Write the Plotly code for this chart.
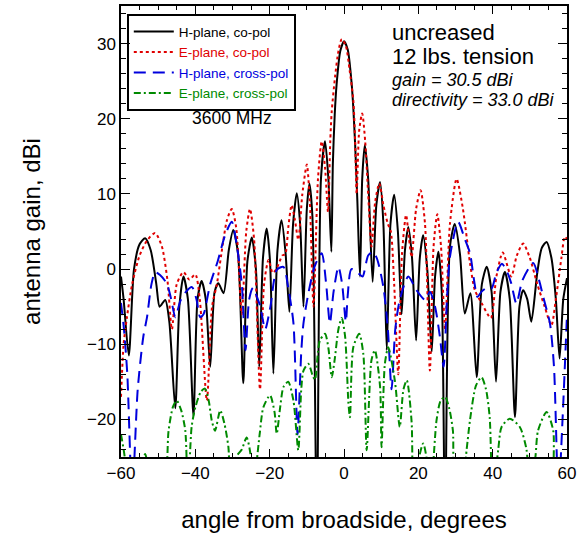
import plotly.graph_objects as go

# ---------------- data ----------------
h_co_ang = [-60, -59.3, -57.9, -56.5, -55, -53.5, -52, -50.5, -49.6, -48.1, -47, -45.4, -44.3, -43.2, -42, -40.5,
            -39.4, -38.3, -37.2, -36.0, -34.8, -33.8, -32.4, -31, -29.8, -28.5, -27.1, -26, -24.8, -23.7, -22.8,
            -21.8, -20.8, -19.9, -19.0, -17.9, -16.8, -15.7, -14.7, -13.7, -12.7, -11.8, -10.9, -10, -9.3, -8.5,
            -7.3, -6.2, -5.1, -4.2, -3.4, -3.0, -2.5, -2.0, -1.0, 0, 1.0, 2.0, 2.5, 3.0, 3.6, 4.3, 4.9, 5.6, 6.5,
            7.7, 8.7, 9.7, 10.6, 11.5, 12.5, 13.5, 14.5, 15.5, 16.4, 17.3, 18.3, 19.4, 20.4, 21.3, 22.4, 23.6,
            24.5, 25.4, 26.3, 27.2, 28.5, 29.8, 31.2, 32.5, 34.0, 35.7, 37.1, 38.4, 39.7, 40.9, 42.1, 43.3, 44.6,
            46.0, 47.2, 48.2, 49.3, 50.4, 52, 53.2, 54.5, 55.8, 57, 58, 59, 60]
h_co_db = [-1.0, -4, -11.5, 0, 3.3, 4.1, 2.5, -2, -5.0, -4.1, -7, -18.5, -5, -1.0, -4, -19.5,
           -4, -1.6, -4, -13, -3, -1.9, -3.2, 2.5, 5.2, 2, -15.2, 1, 4.2, 0, -13,
           1.5, 5.4, 1, -13.9, 2.5, 6.5, 2, -5.7, 6, 10.1, 6, -5, 8, 11.4, 7,
           -35, 12, 17, 12, 2.3, 14, 20.5, 24.5, 29.0, 30.3, 29.2, 25, 21.5, 16.5, 9, -1, 12, 16.5, 12,
           -1.7, 8.5, 11.6, 6, -10.8, 6, 9.9, 5, -6, 2.5, 5.6, 1.5, -9.5, 1.5, 4.5, 0, -11,
           -1, 2.3, -3, -35, 3, 6.0, 2, -5.9, -3.2, -14.4, -2, 0.3, -3, -15, -3, -0.4, -4,
           -19.7, -5, -2.8, -4, -7, -0.5, 2.8, 3.6, 1.5, -4, -11.9, -4, -1.2]

e_co_ang = [-60, -59.3, -58.4, -57, -55, -53, -50.8, -49, -47.5, -46.3, -45, -43.2, -41.6, -40.0, -38.8, -36.9,
            -35.5, -34.2, -33, -31.5, -30.2, -29, -27.5, -26.3, -25.3, -24.2, -22.6, -21.5, -20.3, -19.2, -18.2,
            -16.6, -15.8, -15, -14.1, -13.2, -12.3, -11.2, -10, -9.2, -8.2, -7.0, -6, -5.1, -4.3, -3.7, -3.3,
            -2.4, -1.5, -0.6, 0.5, 1.5, 2.5, 3.0, 3.4, 4.1, 4.9, 5.7, 6.5, 7.4, 8.4, 9.5, 10.6, 11.8, 12.6,
            13.5, 14.6, 15.6, 16.7, 17.5, 18.2, 19.4, 20.6, 21.8, 23.1, 24.1, 25.1, 26.1, 27.2, 28.5, 30.3, 32,
            33.9, 35.2, 37, 39.5, 41, 42.7, 45, 46.5, 48.2, 50, 52, 54, 55.8, 57, 58.5, 59.4, 60]
e_co_db = [-17, -10, -6.4, -2, 1.8, 3.8, 4.8, 3, -1.5, -8, -2, -0.4, -1.4, -0.7, -4, -17.5,
           -5, -2, 2, 6.5, 8.0, 5.5, -6, 5, 8.0, 4, -16, -2, 1.2, -0.5, 0,
           1.8, 2, 5.5, 8.5, 6.5, 3.9, 10, 13.9, 9, -5, 12, 17, 13.5, 7.6, 17, 21,
           25.6, 29, 30.6, 29.7, 26.5, 22.5, 17, 10, 18.5, 20.7, 17, 10, 3, 9, 11.4, 8.5, 6.0, 5.0,
           -2, -14, 2, 7.2, 4, 1.6, 8, 10.5, 6, -13.5, 3, 7.3, 3, -8, 6, 12, 8,
           0.8, -2.8, -4.5, -6.5, -1, 2.2, -1, 1.8, 3.4, 1.5, -2, -5, -7.5, -4, 1.5, 4.3, 4]

h_x_ang = [-60, -59.2, -58.3, -57.0, -55.5, -54, -53, -51.8, -50.8, -49.5, -47.7, -46.5, -45.4, -44, -42.5, -40.9,
           -39.7, -38.7, -37.8, -36, -34, -32, -30.2, -28.8, -27.5, -26.5, -25.5, -24.5, -23.2, -22.5, -21.2,
           -19.8, -18.1, -16.3, -15, -13.6, -12.5, -11.5, -10.9, -9.5, -7.8, -6, -4.8, -3.8, -2.8, -1.5, -0.5,
           0.5, 1.0, 2.0, 4.0, 5.0, 6.5, 7.7, 8.8, 10.6, 11.8, 12.8, 13.8, 15, 17.3, 19.5, 21.8, 23.1, 24.5,
           25.8, 26.8, 27.7, 28.5, 30.7, 32.5, 33.9, 35, 35.9, 37, 38.4, 39.7, 41, 42.5, 44, 45, 46.4, 48,
           50.9, 52.5, 53.6, 55.4, 56.5, 57.7, 58.8, 59.5, 60]
h_x_db = [-4.5, -8, -14, -30, -16, -9, -6.4, -2, -0.4, -0.8, -1.9, -4, -6.4, -4.2, -3, -2.4,
          -4, -6.4, -6, -2, 1, 4.5, 6.3, 3, -2, -10.8, -4, -2.5, -4, -5, -8,
          -5, -0.1, 0.3, -2.5, -7.2, -22, -11, -7.2, -3, 0.5, 2.1, -2, -7.2, -3, 0.3, -2,
          -7, -3.5, 0, -0.6, -1, 1.8, 2.3, 1.5, -2.4, -8, -16, -8, -4.1, -1, -2.8, -4.1, -3, -5,
          -9, -13, -4, 1.6, 6.3, 4, 2.1, -1.5, -3.7, -3, -2.5, -2.6, -0.5, 0.7, -0.5, -1.9, -4.6, -1.5,
          0.8, -1.5, -3.7, -7.2, -13, -30, -20, -12, -6]

e_x_ang = [-60, -59, -58.3, -55, -53.5, -52, -48.5, -47.2, -46, -45, -43.8, -42.7, -42, -41, -40, -38.5,
           -37.4, -36.4, -35.6, -34.7, -33.3, -32.2, -31.1, -30.5, -29, -27.5, -26.2, -25.2, -24.6, -22.7,
           -21.7, -19.9, -18.7, -18.1, -17.2, -16.3, -15, -13.6, -12.3, -11.5, -10.9, -9.6, -8.4, -7.8, -7.0,
           -6.5, -5.1, -4.2, -3.3, -2.5, -1.5, -0.6, 0.3, 1.2, 1.6, 2.5, 4.1, 5.2, 6.1, 7.4, 8.3, 9.7, 10.1,
           11, 11.9, 13.7, 15, 16, 16.9, 18.2, 18.6, 19.8, 21.3, 22.5, 23.3, 24.9, 26, 27.2, 28.3, 29.3, 30,
           31.5, 33, 33.9, 35.5, 37, 38.2, 39.2, 40, 41.5, 42.4, 44.6, 47.3, 49.1, 50, 51.5, 52.2, 54.5,
           56.3, 57, 60]
e_x_db = [-22, -25, -30, -28, -24.6, -28, -30, -21.5, -18.3, -17.5, -18.8, -21.5, -30, -21, -18.4, -16.3,
          -15.9, -17.5, -20.1, -21.5, -18.8, -20.5, -23.7, -30, -25, -24, -22.4, -24.5, -30, -22,
          -18.4, -16.8, -19, -21.9, -18.5, -15.7, -15, -17.5, -24.1, -16, -13.5, -12.6, -14.2, -14.7, -11,
          -9.5, -8.6, -10.5, -14.4, -12, -8, -6.5, -9, -17.9, -19.7, -10.4, -8.6, -11.3, -24.1, -12.1, -10.8,
          -15.6, -23.7, -12.6, -10.4, -14.9, -21, -16, -14.8, -20.4, -30, -26, -23.2, -26, -30, -20.1, -17.5,
          -17, -18.5, -21.5, -30, -30, -24, -20.1, -15.5, -14.4, -16, -19.7, -30, -24, -21, -19.9, -21, -24,
          -30, -25, -21.5, -19, -21.5, -30, -30]

names = ["H-plane, co-pol", "E-plane, co-pol", "H-plane, cross-pol", "E-plane, cross-pol"]
colors = ["#000000", "#e00000", "#0000dd", "#008a00"]
dashes = ["solid", "3px,3px", "12px,7px", "7px,3px,2px,3px"]

FONT = "Liberation Sans, Arial, sans-serif"

fig = go.Figure()
series = [(h_co_ang, h_co_db), (e_co_ang, e_co_db), (h_x_ang, h_x_db), (e_x_ang, e_x_db)]
for (xs, ys), nm, c, d in zip(series, names, colors, dashes):
    fig.add_trace(go.Scatter(
        x=xs, y=ys, mode="lines",
        name=f"<span style='color:{c}'>{nm}</span>",
        line=dict(color=c, width=2, dash=d, shape="spline", smoothing=0.7),
    ))

fig.update_layout(
    width=583, height=535,
    margin=dict(l=121, r=16, t=6, b=78, autoexpand=False),
    paper_bgcolor="white", plot_bgcolor="white",
    font=dict(family=FONT, color="black", size=17),
    showlegend=True,
    legend=dict(x=0.013, y=0.982, xanchor="left", yanchor="top",
                bordercolor="black", borderwidth=2, bgcolor="rgba(255,255,255,0)",
                font=dict(family=FONT, size=13.5), tracegroupgap=0,
                itemwidth=40),
)

fig.update_xaxes(
    range=[-60, 60], tick0=-60, dtick=20, ticks="inside", ticklen=8, tickwidth=1, tickcolor="black",
    showline=True, linecolor="black", linewidth=1.5, mirror="ticks", showgrid=False, zeroline=False,
    tickfont=dict(size=17), automargin=False,
    minor=dict(dtick=5, ticks="inside", ticklen=4, tickcolor="black", showgrid=False),
    title=dict(text="angle from broadside, degrees", font=dict(size=24), standoff=29),
)
fig.update_yaxes(
    range=[-25, 35], tick0=0, dtick=10, ticks="inside", ticklen=9, tickwidth=1, tickcolor="black",
    showline=True, linecolor="black", linewidth=1.5, mirror="ticks", showgrid=False, zeroline=False,
    tickfont=dict(size=17), automargin=False,
    minor=dict(dtick=2, ticks="inside", ticklen=5, tickcolor="black", showgrid=False),
    title=dict(text="antenna gain, dBi", font=dict(size=24), standoff=40),
)

ann = [
    dict(text="3600 MHz", x=0.248, y=0.752, xanchor="center", yanchor="middle", font=dict(size=17.5)),
    dict(text="uncreased", x=0.603, y=0.942, xanchor="left", yanchor="middle", font=dict(size=22)),
    dict(text="12 lbs. tension", x=0.603, y=0.889, xanchor="left", yanchor="middle", font=dict(size=22)),
    dict(text="<i>gain = 30.5 dBi</i>", x=0.603, y=0.836, xanchor="left", yanchor="middle", font=dict(size=18)),
    dict(text="<i>directivity = 33.0 dBi</i>", x=0.603, y=0.792, xanchor="left", yanchor="middle", font=dict(size=18)),
]
for a in ann:
    fig.add_annotation(xref="paper", yref="paper", showarrow=False, **a)

fig.write_html("out.html", config={"displayModeBar": False},
               post_script="document.body.style.margin='0';document.body.style.padding='0';")
